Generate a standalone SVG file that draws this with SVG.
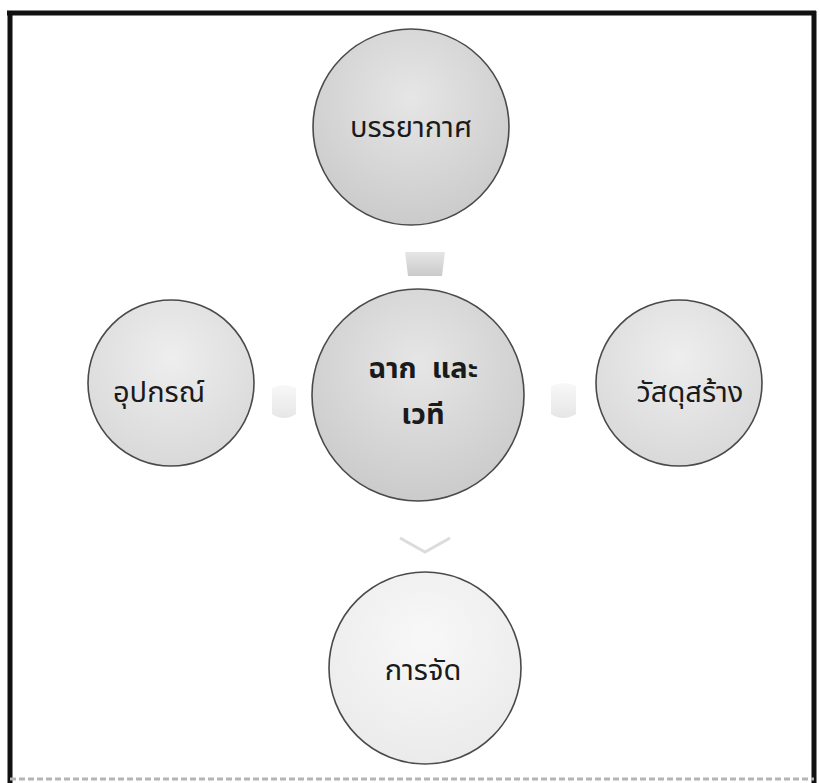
<svg xmlns="http://www.w3.org/2000/svg" width="820" height="783" viewBox="0 0 820 783">
<defs>
<radialGradient id="gDark" cx="0.5" cy="0.35" r="0.65">
<stop offset="0" stop-color="#e6e6e6"/>
<stop offset="1" stop-color="#cbcbcb"/>
</radialGradient>
<radialGradient id="gMid" cx="0.5" cy="0.35" r="0.65">
<stop offset="0" stop-color="#eeeeee"/>
<stop offset="1" stop-color="#d9d9d9"/>
</radialGradient>
<radialGradient id="gLight" cx="0.5" cy="0.35" r="0.65">
<stop offset="0" stop-color="#f8f8f8"/>
<stop offset="1" stop-color="#ebebeb"/>
</radialGradient>
<linearGradient id="aDown" x1="0" y1="0" x2="0" y2="1">
<stop offset="0" stop-color="#e6e6e6"/>
<stop offset="1" stop-color="#cacaca"/>
</linearGradient>
<linearGradient id="aSide" x1="0" y1="0" x2="0" y2="1">
<stop offset="0" stop-color="#f8f8f8"/>
<stop offset="1" stop-color="#e6e6e6"/>
</linearGradient>
</defs>
<style>
.node { stroke: #4a4a4a; stroke-width: 1.6; }
.lbl { font-family: "Noto Sans Thai", "Noto Sans", "DejaVu Sans", sans-serif; font-size: 29px; fill: #1a1a1a; text-anchor: middle; }
.bold { font-weight: bold; font-size: 29px; }
.frame { stroke: #111; stroke-width: 5; fill: none; }
</style>
<rect x="0" y="0" width="820" height="783" fill="#ffffff"/>
<line class="frame" x1="7" y1="13" x2="816" y2="13"/>
<line class="frame" x1="10" y1="11" x2="10" y2="783"/>
<line class="frame" x1="814" y1="11" x2="814" y2="783"/>
<line x1="10" y1="779" x2="814" y2="779" stroke="#b5b5b5" stroke-width="3" stroke-dasharray="6 3"/>
<g id="connectors">
<path d="M405 252 L445 252 L442 276 L408 276 Z" fill="url(#aDown)"/>
<path d="M272 388 Q284 382 296 388 L296 414 Q284 422 272 414 Z" fill="url(#aSide)"/>
<path d="M551 386 Q563 380 576 386 L576 414 Q563 422 551 414 Z" fill="url(#aSide)"/>
<path d="M400 538 L425 552 L450 538" fill="none" stroke="#dcdcdc" stroke-width="3"/>
</g>
<g id="node-top">
<circle class="node" cx="411" cy="127" r="98" fill="url(#gDark)"/>
<text class="lbl" x="411" y="137">บรรยากาศ</text>
</g>
<g id="node-center">
<circle class="node" cx="418" cy="395" r="106" fill="url(#gDark)"/>
<text class="lbl bold" x="423" y="378" xml:space="preserve">ฉาก  และ</text>
<text class="lbl bold" x="423" y="424">เวที</text>
</g>
<g id="node-left">
<circle class="node" cx="171" cy="383" r="83" fill="url(#gMid)"/>
<text class="lbl" x="159" y="402">อุปกรณ์</text>
</g>
<g id="node-right">
<circle class="node" cx="679" cy="383" r="83" fill="url(#gMid)"/>
<text class="lbl" x="690" y="402">วัสดุสร้าง</text>
</g>
<g id="node-bottom">
<circle class="node" cx="425" cy="668" r="96" fill="url(#gLight)"/>
<text class="lbl" x="423" y="680">การจัด</text>
</g>
</svg>
